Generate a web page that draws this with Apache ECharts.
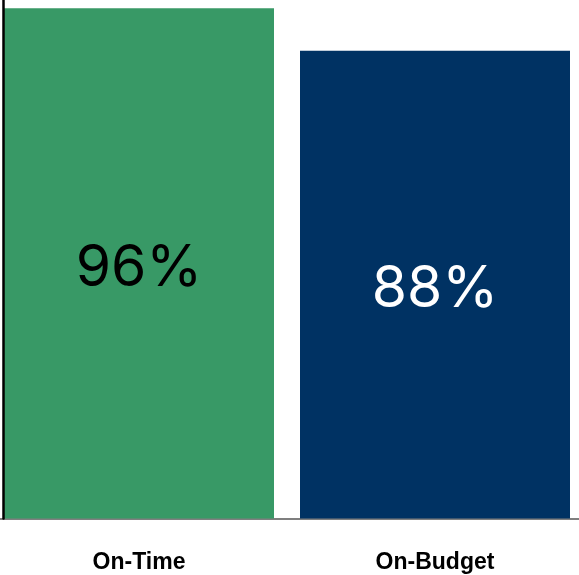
<!DOCTYPE html>
<html><head><meta charset="utf-8">
<script src="https://cdn.jsdelivr.net/npm/echarts@6/dist/echarts.min.js"></script>
<style>html,body{margin:0;padding:0;background:#fff;overflow:hidden}#c{width:592px;height:575px;margin-left:-9px}</style>
</head><body><div id="c"></div>
<script>
const categories = ['On-Time', 'On-Budget'];
const values = [96, 88];
const barColors = ['#389966', '#003263'];
const labelColors = ['#000000', '#ffffff'];

const chart = echarts.init(document.getElementById('c'), null, {renderer: 'canvas'});
chart.setOption({
  animation: false,
  grid: {left: 0, right: 0, top: 0, bottom: 56.5, containLabel: false},
  xAxis: {
    type: 'category', data: categories,
    axisLine: {show: true, lineStyle: {color: '#555', width: 1.5}},
    axisTick: {show: false},
    axisLabel: {color: '#000', fontFamily: 'Liberation Sans', fontWeight: 'bold', fontSize: 23, margin: 33}
  },
  yAxis: {
    type: 'value', min: 0, max: 97.56, offset: -12, z: 5,
    axisLine: {show: true, lineStyle: {color: '#000', width: 2.5}},
    axisTick: {show: false}, axisLabel: {show: false}, splitLine: {show: false}
  },
  series: [{
    type: 'bar',
    barWidth: 270,
    data: values.map((v, i) => ({
      value: v,
      itemStyle: {color: barColors[i]},
      label: {color: labelColors[i]}
    })),
    label: {show: true, position: 'inside', offset: [0, 5], formatter: '{c}%', fontFamily: 'Inter', fontSize: 57, fontWeight: 'normal'}
  }]
});
</script></body></html>
